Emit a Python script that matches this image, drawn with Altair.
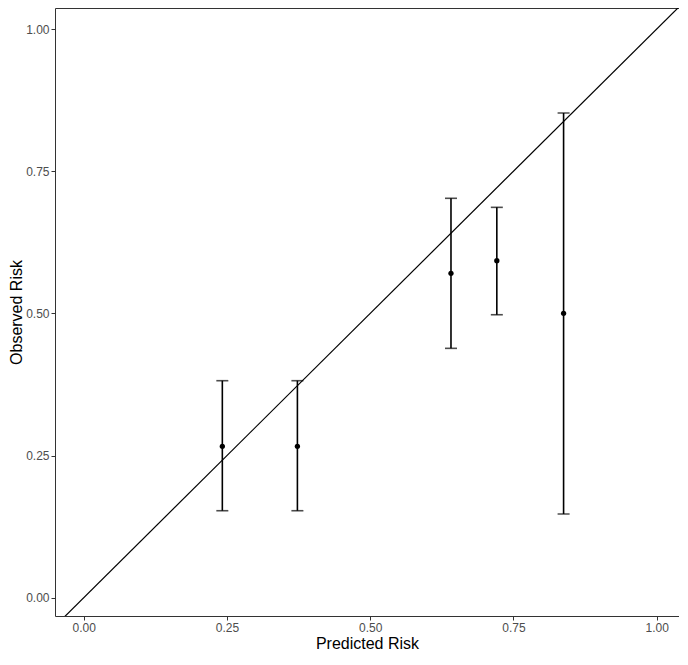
import altair as alt
import pandas as pd

predicted = [0.242, 0.373, 0.641, 0.721, 0.8375]
observed = [0.2664, 0.2664, 0.5705, 0.5927, 0.5002]
lower = [0.1531, 0.1531, 0.4386, 0.4977, 0.1473]
upper = [0.3817, 0.3817, 0.7024, 0.6865, 0.8523]
diag = [-0.06, 1.06]
ticks = [0.0, 0.25, 0.5, 0.75, 1.0]

df = pd.DataFrame({"pred": predicted, "obs": observed, "lo": lower, "hi": upper})
dline = pd.DataFrame({"x": diag, "y": diag})

xs = alt.Scale(domain=[-0.05, 1.0389], nice=False, zero=False)
ys = alt.Scale(domain=[-0.032, 1.037], nice=False, zero=False)

axis_common = dict(values=ticks, format=".2f", grid=False, domain=False,
                   tickColor="#333333", tickSize=4, tickWidth=1,
                   labelColor="#4d4d4d", labelFontSize=12, labelFont="Liberation Sans",
                   titleFont="Liberation Sans", titleFontSize=16, titleFontWeight="normal",
                   titleColor="#000000", labelPadding=2)

xaxis = alt.Axis(title="Predicted Risk", titlePadding=2, **axis_common)
yaxis = alt.Axis(title="Observed Risk", titlePadding=1, **axis_common)

line = alt.Chart(dline).mark_line(color="black", strokeWidth=1.2, clip=True).encode(
    x=alt.X("x:Q", scale=xs, axis=xaxis),
    y=alt.Y("y:Q", scale=ys, axis=yaxis),
)

rules = alt.Chart(df).mark_rule(color="black", strokeWidth=1.6).encode(
    x="pred:Q", y="lo:Q", y2="hi:Q"
)
cap_lo = alt.Chart(df).mark_tick(color="black", size=12, thickness=1.6, orient="horizontal").encode(
    x="pred:Q", y="lo:Q"
)
cap_hi = alt.Chart(df).mark_tick(color="black", size=12, thickness=1.6, orient="horizontal").encode(
    x="pred:Q", y="hi:Q"
)
pts = alt.Chart(df).mark_circle(color="black", opacity=1, size=28).encode(
    x="pred:Q", y="obs:Q"
)

chart = alt.layer(line, rules, cap_lo, cap_hi, pts).properties(
    width=624, height=608, padding={"left": 0, "top": 0, "right": 0, "bottom": 0}
).configure_view(stroke="#333333", strokeWidth=1)

chart.save("out.html", embed_options={"renderer": "svg", "actions": False})
